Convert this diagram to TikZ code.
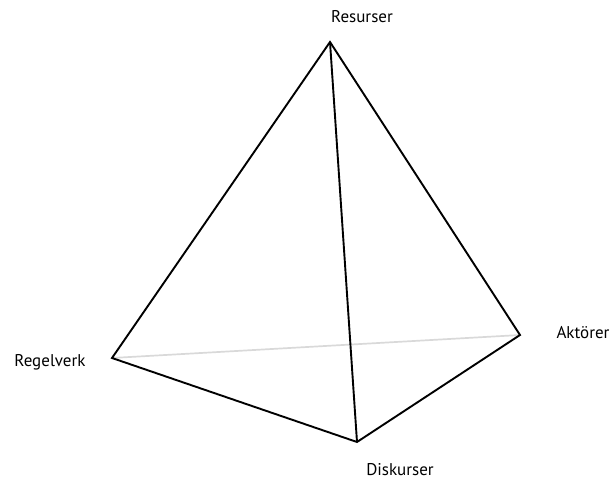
\documentclass[tikz,border=0pt]{standalone}
\usepackage{fontspec}
\setmainfont{PT Sans}
\usetikzlibrary{positioning}
\definecolor{edgeDark}{HTML}{000000}
\definecolor{edgeHidden}{HTML}{D9D9D9}
\tikzset{
  edgeV/.style={draw=edgeDark, line width=1.9pt, line join=miter},
  edgeH/.style={draw=edgeHidden, line width=1.7pt},
  vLabel/.style={inner sep=0pt, font=\fontsize{17}{20}\selectfont},
}
\begin{document}
\begin{tikzpicture}[x=1pt, y=-1pt]
    \useasboundingbox (0,0) rectangle (615,489);
    \coordinate (res) at (330,42);
    \coordinate (reg) at (112,358);
    \coordinate (akt) at (520,335);
    \coordinate (dis) at (357,442);
    \node[vLabel] (lRes) at (362,17) {Resurser};
    \node[vLabel] (lReg) at (50,362) {Regelverk};
    \node[vLabel] (lAkt) at (583,333) {Aktörer};
    \node[vLabel] (lDis) at (400,470) {Diskurser};
    % hidden edge behind
    \draw[edgeH] (reg) -- (akt);
    \draw[edgeV] (res) -- (reg) -- (dis) -- (akt) -- cycle;
    \draw[edgeV] (res) -- (dis);
  \end{tikzpicture}
\end{document}
